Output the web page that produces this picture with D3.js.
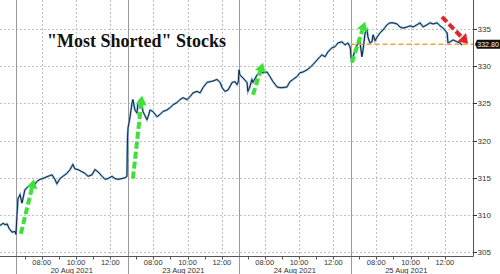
<!DOCTYPE html>
<html>
<head>
<meta charset="utf-8">
<script src="https://cdn.jsdelivr.net/npm/d3@7"></script>
<style>
  body { margin: 0; background: #fff; }
  svg { display: block; }
  text { font-family: "Liberation Sans", Arial, sans-serif; }
  text.title { font-family: "Liberation Serif", "Times New Roman", serif; }
</style>
</head>
<body>
<svg id="chart" width="500" height="274"></svg>
<script>
/* --------------------------------------------------- */
/* ----------------------- DATA ---------------------- */
/* --------------------------------------------------- */

let dayNames = ["19 Aug 2021", "20 Aug 2021", "23 Aug 2021", "24 Aug 2021", "25 Aug 2021"]
let hourLabels = ["08:00", "10:00", "12:00"]
let minorHours = ["07:00", "09:00", "11:00"]
let yTicks = [305, 310, 315, 320, 325, 330, 335]
let lastPrice = 332.80
let title = '"Most Shorted" Stocks'

// intraday prints, [time, value] per session (06:30 - 13:00)
let aug19 = [["12:04", 308.6], ["12:15", 308.9], ["12:22", 308.7], ["12:29", 308.8], ["12:36", 308.2],
    ["12:46", 307.7], ["12:57", 307.8]]
let aug20 = [["06:30", 307.4], ["06:33", 309.8], ["06:37", 312.2], ["06:44", 312.75], ["06:51", 311.6],
    ["07:01", 313.4], ["07:12", 313.8], ["07:26", 314.1], ["07:30", 313.8], ["07:43", 314.5],
    ["07:54", 314.8], ["08:04", 314.9], ["08:22", 315.2], ["08:36", 315.4], ["08:46", 314.8],
    ["08:53", 314.2], ["09:04", 314.9], ["09:14", 315.2], ["09:28", 315.6], ["09:39", 316.1],
    ["09:49", 316.8], ["09:56", 316.2], ["10:07", 316.1], ["10:21", 315.8], ["10:31", 315.6],
    ["10:42", 315.2], ["10:56", 315.4], ["11:06", 316.1], ["11:17", 315.8], ["11:31", 315.2],
    ["11:41", 314.8], ["11:52", 314.9], ["12:06", 315.2], ["12:16", 314.9], ["12:27", 314.8],
    ["12:41", 314.9], ["12:51", 315.0], ["12:58", 315.2]]
let aug23 = [["06:30", 320.4], ["06:32", 321.7], ["06:39", 323.2], ["06:46", 325.1], ["06:49", 325.5],
    ["06:56", 324.1], ["07:03", 323.7], ["07:07", 325.1], ["07:14", 325.5], ["07:21", 324.8],
    ["07:24", 323.9], ["07:38", 322.8], ["07:42", 323.2], ["07:49", 324.1], ["07:59", 323.9],
    ["08:13", 323.2], ["08:24", 323.5], ["08:34", 323.9], ["08:48", 324.1], ["08:59", 324.4],
    ["09:09", 324.8], ["09:23", 325.1], ["09:34", 325.5], ["09:44", 325.75], ["09:58", 325.5],
    ["10:09", 325.9], ["10:19", 326.4], ["10:33", 326.6], ["10:44", 326.4], ["10:54", 327.1],
    ["11:08", 327.8], ["11:19", 327.9], ["11:29", 328.0], ["11:43", 328.2], ["11:54", 327.8],
    ["12:01", 327.1], ["12:11", 326.6], ["12:22", 326.8], ["12:36", 327.8], ["12:46", 327.9],
    ["12:53", 327.5], ["12:58", 328.0]]
let aug24 = [["06:30", 329.5], ["06:33", 328.8], ["06:44", 328.4], ["06:58", 327.8], ["07:01", 326.6],
    ["07:08", 327.2], ["07:15", 328.2], ["07:19", 327.8], ["07:33", 328.8], ["07:43", 329.2],
    ["07:54", 329.1], ["08:08", 329.2], ["08:18", 328.6], ["08:29", 327.9], ["08:43", 327.2],
    ["08:53", 327.1], ["09:04", 327.1], ["09:18", 327.2], ["09:28", 327.9], ["09:39", 328.2],
    ["09:53", 328.6], ["10:03", 329.1], ["10:14", 329.2], ["10:28", 329.5], ["10:38", 329.8],
    ["10:49", 330.2], ["11:03", 330.8], ["11:13", 331.25], ["11:20", 331.5], ["11:31", 331.25],
    ["11:41", 331.9], ["11:55", 332.45], ["12:06", 332.6], ["12:16", 333.1], ["12:30", 333.25],
    ["12:41", 332.85], ["12:51", 333.1], ["12:58", 332.6]]
let aug25 = [["06:30", 332.2], ["06:32", 331.1], ["06:35", 330.6], ["06:46", 332.2], ["06:53", 332.85],
    ["07:03", 333.25], ["07:10", 331.25], ["07:14", 332.2], ["07:21", 334.45], ["07:28", 334.85],
    ["07:31", 333.9], ["07:38", 333.1], ["07:45", 333.25], ["07:49", 334.2], ["07:56", 333.4],
    ["08:03", 333.9], ["08:13", 334.45], ["08:24", 334.85], ["08:38", 335.55], ["08:48", 335.8],
    ["08:59", 335.8], ["09:13", 335.65], ["09:23", 335.25], ["09:34", 335.1], ["09:48", 335.25],
    ["09:58", 335.4], ["10:09", 335.25], ["10:23", 335.55], ["10:33", 335.8], ["10:44", 335.25],
    ["10:58", 335.55], ["11:08", 335.8], ["11:19", 335.65], ["11:33", 335.8], ["11:43", 335.4],
    ["11:54", 335.1], ["12:08", 334.45], ["12:11", 333.1], ["12:18", 333.25], ["12:29", 333.5],
    ["12:43", 333.25], ["12:53", 333.1], ["13:00", 332.8]]
let sessions = [aug19, aug20, aug23, aug24, aug25]

// annotations: [day, from time, from value, to time, to value]
let greenArrows = [
    [1, "06:47", 307.5, "07:33", 314.8],
    [2, "06:49", 314.9, "07:21", 326.0],
    [3, "07:19", 326.15, "07:54", 330.45],
    [4, "06:35", 330.45, "07:21", 335.95]
]
let redArrows = [[4, "11:50", 336.6, "13:21", 333.0]]

/* --------------------------------------------------- */
/* ---------------------- CHART ---------------------- */
/* --------------------------------------------------- */

let plotRight = 473.5, plotBottom = 256.5

// trading-hours time: every session is 6.5h, sessions glued together
function sessionT(day, hhmm) {
    let [h, m] = hhmm.split(":").map(Number)
    return day * 6.5 + (h + m / 60 - 6.5)
}

let x = d3.scaleLinear().domain([5.567, 33.17]).range([0, plotRight])
let y = d3.scaleLinear().domain([305, 335]).range([252.3, 28.8])

let svg = d3.select("#chart")

/* ----- grid ----- */
let grid = svg.append("g").attr("stroke", "#c2c2c2").attr("stroke-dasharray", "2,2")
grid.selectAll(".hgrid").data(yTicks).enter().append("line")
    .attr("x1", 0).attr("x2", plotRight)
    .attr("y1", d => Math.round(y(d)) + 0.5).attr("y2", d => Math.round(y(d)) + 0.5)

let vgrid = []
sessions.forEach((s, d) => hourLabels.forEach(h => vgrid.push(x(sessionT(d, h)))))
grid.selectAll(".vgrid").data(vgrid.filter(v => v > 1 && v < plotRight)).enter().append("line")
    .attr("x1", d => Math.round(d) + 0.5).attr("x2", d => Math.round(d) + 0.5)
    .attr("y1", 0).attr("y2", plotBottom)

/* ----- day separators ----- */
svg.selectAll(".sep").data(d3.range(1, sessions.length)).enter().append("line")
    .attr("x1", d => Math.round(x(d * 6.5)) + 0.5).attr("x2", d => Math.round(x(d * 6.5)) + 0.5)
    .attr("y1", 0).attr("y2", 274)
    .attr("stroke", "#9a9a9a").attr("stroke-width", 1)

/* ----- price line ----- */
let points = []
sessions.forEach((s, d) => s.forEach(p => points.push({ t: sessionT(d, p[0]), v: p[1] })))

svg.append("clipPath").attr("id", "plotClip")
    .append("rect").attr("width", plotRight).attr("height", plotBottom)

let line = d3.line().x(d => x(d.t)).y(d => y(d.v))
let lines = svg.append("g").attr("clip-path", "url(#plotClip)")
lines.append("path").datum(points).attr("d", line)
    .attr("fill", "none").attr("stroke", "#86b8e2").attr("stroke-width", 2.2)
lines.append("path").datum(points).attr("d", line)
    .attr("fill", "none").attr("stroke", "#1a2434").attr("stroke-width", 1)

/* ----- last price level ----- */
svg.append("line")
    .attr("x1", x(sessionT(4, "06:30"))).attr("x2", plotRight)
    .attr("y1", y(lastPrice) - 1).attr("y2", y(lastPrice) - 1)
    .attr("stroke", "#f2a43a").attr("stroke-width", 1.5).attr("stroke-dasharray", "5,3")

/* ----- arrows ----- */
function drawArrow(a, color, width, headLen, headHalf) {
    let x1 = x(sessionT(a[0], a[1])), y1 = y(a[2])
    let x2 = x(sessionT(a[0], a[3])), y2 = y(a[4])
    let dx = x2 - x1, dy = y2 - y1
    let len = Math.sqrt(dx * dx + dy * dy)
    let ux = dx / len, uy = dy / len
    let bx = x2 - ux * headLen, by = y2 - uy * headLen
    svg.append("line")
        .attr("x1", x1).attr("y1", y1).attr("x2", bx).attr("y2", by)
        .attr("stroke", color).attr("stroke-width", width).attr("stroke-dasharray", "7,3")
    svg.append("polygon")
        .attr("points", [[x2, y2], [bx - uy * headHalf, by + ux * headHalf], [bx + uy * headHalf, by - ux * headHalf]].join(" "))
        .attr("fill", color)
}
greenArrows.forEach(a => drawArrow(a, "#3ee03a", 4, 9, 5.5))
redArrows.forEach(a => drawArrow(a, "#e0262b", 4, 9, 6))

/* ----- axes ----- */
svg.append("line").attr("x1", plotRight).attr("x2", plotRight).attr("y1", 0).attr("y2", plotBottom)
    .attr("stroke", "#555")
svg.append("line").attr("x1", 0).attr("x2", plotRight).attr("y1", plotBottom).attr("y2", plotBottom)
    .attr("stroke", "#555")

svg.selectAll(".ytick").data(yTicks).enter().append("line")
    .attr("x1", plotRight).attr("x2", plotRight + 3.5)
    .attr("y1", d => Math.round(y(d)) + 0.5).attr("y2", d => Math.round(y(d)) + 0.5)
    .attr("stroke", "#333")
svg.selectAll(".ylabel").data(yTicks).enter().append("text")
    .attr("x", plotRight + 4).attr("y", d => y(d) + 3)
    .attr("font-size", "8px").attr("fill", "#333")
    .text(d => d)

let xticks = []
sessions.forEach((s, d) => hourLabels.concat(minorHours).forEach(h => xticks.push(x(sessionT(d, h)))))
svg.selectAll(".xtick").data(xticks.filter(v => v > 1 && v < plotRight)).enter().append("line")
    .attr("x1", d => Math.round(d) + 0.5).attr("x2", d => Math.round(d) + 0.5)
    .attr("y1", plotBottom).attr("y2", plotBottom + 3)
    .attr("stroke", "#555")

let hourText = []
sessions.forEach((s, d) => hourLabels.forEach(h => hourText.push({ x: x(sessionT(d, h)), h })))
svg.selectAll(".xlabel").data(hourText.filter(d => d.x > 10 && d.x < plotRight)).enter().append("text")
    .attr("x", d => d.x).attr("y", 264.5)
    .attr("text-anchor", "middle").attr("font-size", "7.5px").attr("fill", "#333")
    .text(d => d.h)

svg.selectAll(".daylabel").data(dayNames.slice(1)).enter().append("text")
    .attr("x", (d, i) => x(sessionT(i + 1, "09:45")))
    .attr("y", 272.5)
    .attr("text-anchor", "middle").attr("font-size", "7.5px").attr("fill", "#333")
    .text(d => d)

/* ----- last price tag ----- */
let tagY = y(lastPrice) - 1
svg.append("path")
    .attr("d", "M" + (plotRight + 1.5) + "," + tagY + "L" + (plotRight + 3.5) + "," + (tagY - 4.5) + "H500V" + (tagY + 4.5) + "H" + (plotRight + 3.5) + "Z")
    .attr("fill", "#111")
svg.append("text")
    .attr("x", plotRight + 3.8).attr("y", tagY + 2.7)
    .attr("font-size", "7.4px").attr("fill", "#fff")
    .attr("textLength", 21.5).attr("lengthAdjust", "spacingAndGlyphs")
    .text(lastPrice.toFixed(2))

/* ----- title ----- */
svg.append("text").attr("class", "title")
    .attr("x", 47).attr("y", 47)
    .attr("font-weight", "bold").attr("font-size", "18px").attr("fill", "#111")
    .text(title)
</script>
</body>
</html>
